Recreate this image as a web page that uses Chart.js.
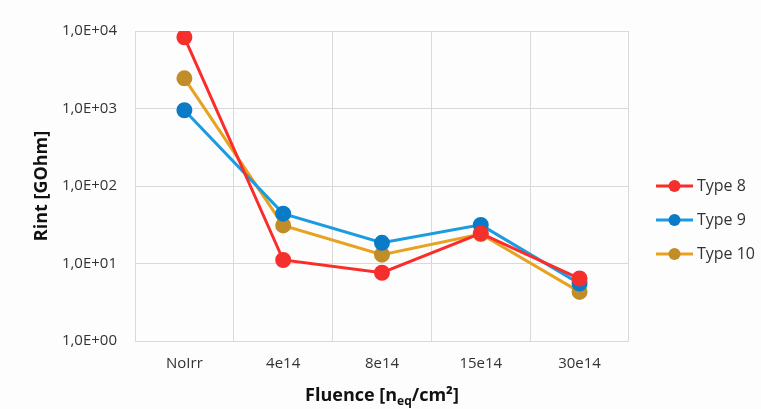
<!DOCTYPE html>
<html><head><meta charset="utf-8">
<script src="https://cdn.jsdelivr.net/npm/chart.js@4"></script>
<style>html,body{margin:0;padding:0;background:#fdfdfd}#w{width:761px;height:409px}</style>
</head><body><div id="w"><canvas id="c" width="761" height="409"></canvas></div>
<script>
const categories = ["NoIrr", "4e14", "8e14", "15e14", "30e14"];
const type8 = [8300, 11.1, 7.6, 24.5, 6.4];
const type9 = [950, 44, 18.5, 31.5, 5.5];
const type10 = [2450, 31, 13, 24, 4.3];
const yTicks = [1, 10, 100, 1000, 10000];
const seriesNames = ["Type 8", "Type 9", "Type 10"];
const lineColors = ["#fa2d2b", "#1c9be0", "#e7a21f"];
const pointColors = ["#f5302c", "#0a7bc6", "#c18d28"];

const FONT = "'Open Sans', 'Liberation Sans', sans-serif";

function legendIcon(lc, pc) {
  const cv = document.createElement('canvas');
  cv.width = 54; cv.height = 16;
  const g = cv.getContext('2d');
  g.strokeStyle = lc; g.lineWidth = 3;
  g.beginPath(); g.moveTo(15, 8); g.lineTo(52, 8); g.stroke();
  g.fillStyle = pc; g.beginPath(); g.arc(33.5, 8, 6, 0, Math.PI * 2); g.fill();
  return cv;
}
const icons = lineColors.map((c, i) => legendIcon(c, pointColors[i]));

const xTitlePlugin = {
  id: 'xTitle',
  afterDraw(chart) {
    const ctx = chart.ctx, a = chart.chartArea;
    const big = "bold 18px " + FONT, small = "bold 12px " + FONT;
    const p1 = "Fluence [n", p2 = "eq", p3 = "/cm\u00B2]";
    ctx.save();
    ctx.fillStyle = "#111";
    ctx.textBaseline = "alphabetic";
    ctx.font = big; const w1 = ctx.measureText(p1).width, w3 = ctx.measureText(p3).width;
    ctx.font = small; const w2 = ctx.measureText(p2).width;
    let x = (a.left + a.right) / 2 - (w1 + w2 + w3) / 2;
    const y = 401;
    ctx.font = big; ctx.fillText(p1, x, y); x += w1;
    ctx.font = small; ctx.fillText(p2, x, y + 4); x += w2;
    ctx.font = big; ctx.fillText(p3, x, y);
    ctx.restore();
  }
};

const datasets = [type8, type9, type10].map((d, i) => ({
  label: seriesNames[i],
  data: d,
  borderColor: lineColors[i],
  backgroundColor: pointColors[i],
  pointBackgroundColor: pointColors[i],
  pointBorderColor: pointColors[i],
  pointRadius: 6.5,
  pointHoverRadius: 6.5,
  borderWidth: 3,
  tension: 0,
  fill: false
}));

new Chart(document.getElementById('c'), {
  type: 'line',
  data: { labels: categories, datasets },
  plugins: [xTitlePlugin],
  options: {
    responsive: false,
    animation: false,
    layout: { padding: { left: 29, top: 31, right: -4, bottom: 0 } },
    plugins: {
      tooltip: { enabled: false },
      legend: {
        position: 'right',
        labels: {
          usePointStyle: true,
          pointStyleWidth: 42,
          padding: 18,
          color: "#333",
          font: { family: FONT, size: 16 },
          generateLabels(chart) {
            return chart.data.datasets.map((ds, i) => ({
              text: ds.label, pointStyle: icons[i], datasetIndex: i,
              fillStyle: pointColors[i], strokeStyle: lineColors[i], lineWidth: 0, hidden: false, fontColor: "#333"
            }));
          }
        }
      }
    },
    scales: {
      x: {
        type: 'category',
        offset: true,
        grid: { offset: true, color: "#d9d9d9", drawTicks: false, lineWidth: 1 },
        border: { color: "#d9d9d9" },
        ticks: { color: "#333", font: { family: FONT, size: 15 }, padding: 14 },
        afterFit(s) { s.height = 68; }
      },
      y: {
        type: 'logarithmic',
        min: 1, max: 10000,
        grid: { color: "#d9d9d9", drawTicks: false },
        border: { color: "#d9d9d9" },
        afterBuildTicks(s) { s.ticks = yTicks.map(v => ({ value: v })); },
        ticks: {
          color: "#333", font: { family: FONT, size: 15 }, padding: 18,
          callback(v) { const e = Math.round(Math.log10(v)); return "1,0E+" + String(e).padStart(2, "0"); }
        },
        title: { display: true, text: "Rint [GOhm]", color: "#111", font: { family: FONT, size: 18, weight: "bold" }, padding: { top: 2, bottom: 0 } },
        afterFit(s) { s.width = 106; }
      }
    }
  }
});
</script>
</body></html>
